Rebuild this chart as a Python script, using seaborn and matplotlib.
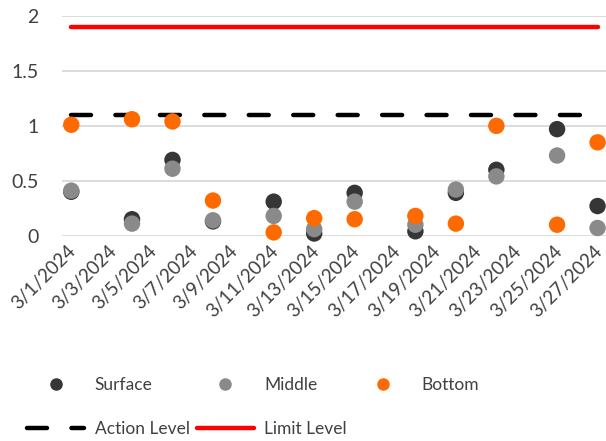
import matplotlib
matplotlib.use("Agg")
import matplotlib.pyplot as plt
import matplotlib.transforms as mtransforms
import seaborn as sns
import pandas as pd
from matplotlib.lines import Line2D

dates = ["2024-03-01", "2024-03-04", "2024-03-06", "2024-03-08", "2024-03-11", "2024-03-13",
         "2024-03-15", "2024-03-18", "2024-03-20", "2024-03-22", "2024-03-25", "2024-03-27"]
surface = [0.40, 0.15, 0.69, 0.13, 0.31, 0.02, 0.39, 0.04, 0.39, 0.60, 0.97, 0.27]
middle = [0.41, 0.11, 0.61, 0.14, 0.18, 0.06, 0.31, 0.10, 0.42, 0.54, 0.73, 0.07]
bottom = [1.01, 1.06, 1.04, 0.32, 0.03, 0.16, 0.15, 0.18, 0.11, 1.00, 0.10, 0.85]
action_level = 1.1
limit_level = 1.9
tick_dates = ["2024-03-%02d" % d for d in range(1, 28, 2)]
tick_labels = ["3/%d/2024" % d for d in range(1, 28, 2)]
y_ticks = [0, 0.5, 1, 1.5, 2]
y_labels = ["0", "0.5", "1", "1.5", "2"]

series_colors = {"Surface": "#363636", "Middle": "#8a8a8a", "Bottom": "#ff6a00"}
text_color = "#404040"

sns.set_theme(style="white")
plt.rcParams["font.family"] = ["Lato", "DejaVu Sans"]

df = pd.DataFrame({
    "date": pd.to_datetime(dates * 3),
    "value": surface + middle + bottom,
    "series": ["Surface"] * len(dates) + ["Middle"] * len(dates) + ["Bottom"] * len(dates),
})
levels = pd.DataFrame({
    "date": pd.to_datetime([dates[0], dates[-1], dates[0], dates[-1]]),
    "value": [action_level, action_level, limit_level, limit_level],
    "level": ["Action Level", "Action Level", "Limit Level", "Limit Level"],
})

fig = plt.figure(figsize=(6.06, 4.41), dpi=100)
ax = fig.add_axes([62 / 606, 1 - 235.7 / 441, 1 - 62 / 606, (235.7 - 16) / 441])

for y in y_ticks:
    ax.axhline(y, color="#d9d9d9", lw=1.3, zorder=0)

act = levels[levels["level"] == "Action Level"]
lim = levels[levels["level"] == "Limit Level"]
sns.lineplot(data=act, x="date", y="value", ax=ax, color="black", lw=3.2,
             dashes=False, legend=False, zorder=2)
ax.lines[-1].set_dashes([4.5, 5.5])
ax.lines[-1].set_dash_capstyle("round")
sns.lineplot(data=lim, x="date", y="value", ax=ax, color="#ff0000", lw=3.2,
             legend=False, zorder=2)
ax.lines[-1].set_solid_capstyle("round")

sns.scatterplot(data=df, x="date", y="value", hue="series", palette=series_colors,
                s=140, edgecolor="none", linewidth=0, ax=ax, legend=False, zorder=3,
                clip_on=False)

ax.set_xlim(pd.Timestamp("2024-03-01") - pd.Timedelta(hours=11),
            pd.Timestamp("2024-03-27") + pd.Timedelta(hours=10))
ax.set_ylim(0, 2)
ax.set_xticks(pd.to_datetime(tick_dates))
ax.set_xticklabels(tick_labels, rotation=45, ha="right", rotation_mode="anchor",
                   fontsize=13.5, color=text_color)
ax.set_yticks(y_ticks)
ax.set_yticklabels(y_labels, fontsize=14, color=text_color)
ax.tick_params(axis="x", length=0, pad=5)
ax.tick_params(axis="y", length=0, pad=17)
shift = mtransforms.ScaledTranslation(-4 / 100, 0, fig.dpi_scale_trans)
for lbl in ax.get_xticklabels():
    lbl.set_transform(lbl.get_transform() + shift)
for sp in ax.spines.values():
    sp.set_visible(False)
ax.set_xlabel("")
ax.set_ylabel("")

handles = [
    Line2D([], [], ls="none", marker="o", ms=8, color=series_colors["Surface"]),
    Line2D([], [], color="black", lw=3.2, dashes=[4.5, 5.5], dash_capstyle="round"),
    Line2D([], [], ls="none", marker="o", ms=8, color=series_colors["Middle"]),
    Line2D([], [], color="#ff0000", lw=3.2, solid_capstyle="round"),
    Line2D([], [], ls="none", marker="o", ms=8, color=series_colors["Bottom"]),
]
labels = ["Surface", "Action Level", "Middle", "Limit Level", "Bottom"]
leg = fig.legend(handles, labels, ncol=3, loc="upper left", bbox_to_anchor=(20 / 606, 1 - 370 / 441),
                 frameon=False, fontsize=12.5, handlelength=3.3, handletextpad=0.6,
                 columnspacing=0.4, labelspacing=1.6, labelcolor=text_color, borderaxespad=0)

fig.savefig("out.png", dpi=100)
